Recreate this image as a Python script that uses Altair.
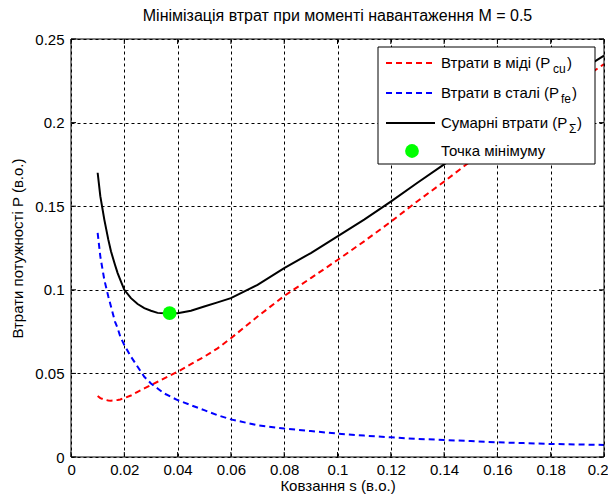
import altair as alt
import pandas as pd

# ---- data ----
s_vals = [0.01, 0.011, 0.0125, 0.014, 0.015, 0.0165, 0.0175, 0.0185, 0.02, 0.0225,
          0.025, 0.0275, 0.03, 0.0325, 0.035, 0.04, 0.045, 0.05, 0.055, 0.06,
          0.07, 0.08, 0.09, 0.10, 0.11, 0.12, 0.13, 0.14, 0.15, 0.16,
          0.17, 0.18, 0.19, 0.20]
p_cu = [0.0365, 0.0352, 0.0343, 0.0338, 0.0337, 0.0339, 0.0341, 0.0344, 0.0352, 0.0368,
        0.039, 0.041, 0.043, 0.045, 0.047, 0.051, 0.0555, 0.060, 0.065, 0.071,
        0.084, 0.0963, 0.107, 0.1178, 0.129, 0.1407, 0.153, 0.1647, 0.177, 0.189,
        0.201, 0.213, 0.224, 0.235]
p_fe = [0.134, 0.120, 0.106, 0.096, 0.090, 0.081, 0.077, 0.072, 0.067, 0.060,
        0.054, 0.048, 0.044, 0.041, 0.038, 0.034, 0.031, 0.028, 0.025, 0.0225,
        0.019, 0.017, 0.0155, 0.014, 0.0128, 0.0118, 0.0108, 0.0102, 0.0095, 0.0088,
        0.0083, 0.0078, 0.0075, 0.0072]
p_sum = [0.170, 0.156, 0.142, 0.130, 0.123, 0.115, 0.110, 0.106, 0.100, 0.095,
         0.0915, 0.089, 0.0875, 0.0862, 0.086, 0.086, 0.0875, 0.090, 0.0925, 0.095,
         0.103, 0.113, 0.122, 0.132, 0.142, 0.1527, 0.164, 0.175, 0.187, 0.198,
         0.209, 0.220, 0.230, 0.240]
min_s = [0.037]
min_p = [0.086]

x_ticks = [0, 0.02, 0.04, 0.06, 0.08, 0.1, 0.12, 0.14, 0.16, 0.18, 0.2]
y_ticks = [0, 0.05, 0.1, 0.15, 0.2, 0.25]

title_text = "Мінімізація втрат при моменті навантаження M = 0.5"
x_title = "Ковзання s (в.о.)"
y_title = "Втрати потужності P (в.о.)"
leg_main = ["Втрати в міді (P", "Втрати в сталі (P", "Сумарні втрати (P", "Точка мінімуму"]
leg_sub = ["cu", "fe", "Σ"]

W, H = 533, 418
FONT = "Liberation Sans"
FS = 15

df_cu = pd.DataFrame({"s": s_vals, "P": p_cu})
df_fe = pd.DataFrame({"s": s_vals, "P": p_fe})
df_sum = pd.DataFrame({"s": s_vals, "P": p_sum})
df_min = pd.DataFrame({"s": min_s, "P": min_p})
df_xt = pd.DataFrame({"s": x_ticks})
df_yt = pd.DataFrame({"P": y_ticks})
one = pd.DataFrame({"a": [0]})

xs = alt.Scale(domain=[0, 0.2], nice=False, zero=False)
ys = alt.Scale(domain=[0, 0.25], nice=False, zero=False)

x_axis = alt.Axis(values=x_ticks, format="~g", grid=True, gridDash=[3, 3],
                  gridColor="black", gridWidth=1, ticks=False, domain=False,
                  labelFont=FONT, labelFontSize=FS, labelColor="black",
                  labelPadding=5, labelFlush=True, labelFlushOffset=4, labelOverlap=False,
                  title=x_title, titleFont=FONT, titleFontSize=FS,
                  titleFontWeight="normal", titleColor="black",
                  titleY=36, titleBaseline="bottom")
y_axis = alt.Axis(values=y_ticks, format="~g", grid=True, gridDash=[3, 3],
                  gridColor="black", gridWidth=1, ticks=False, domain=False,
                  labelFont=FONT, labelFontSize=FS, labelColor="black",
                  labelPadding=7, labelFlush=False, labelOverlap=False,
                  title=y_title, titleFont=FONT, titleFontSize=FS,
                  titleFontWeight="normal", titleColor="black",
                  titleX=-54, titleY=H / 2, titleBaseline="middle", titleAlign="center")

X = alt.X("s:Q", scale=xs, axis=x_axis)
Y = alt.Y("P:Q", scale=ys, axis=y_axis)

cu = alt.Chart(df_cu).mark_line(color="#FF0000", strokeWidth=2, strokeDash=[6, 4]).encode(x=X, y=Y)
fe = alt.Chart(df_fe).mark_line(color="#0000FF", strokeWidth=2, strokeDash=[6, 4]).encode(x=X, y=Y)
tot = alt.Chart(df_sum).mark_line(color="black", strokeWidth=2).encode(x=X, y=Y)
pt = alt.Chart(df_min).mark_circle(color="#00FF00", size=190, opacity=1).encode(x=X, y=Y)

tick_style = dict(color="black", strokeWidth=1)
xt_b = alt.Chart(df_xt).mark_rule(**tick_style).encode(
    x=X, y=alt.value(H), y2=alt.value(H - 5))
xt_t = alt.Chart(df_xt).mark_rule(**tick_style).encode(
    x=X, y=alt.value(0), y2=alt.value(5))
yt_l = alt.Chart(df_yt).mark_rule(**tick_style).encode(
    y=Y, x=alt.value(0), x2=alt.value(5))
yt_r = alt.Chart(df_yt).mark_rule(**tick_style).encode(
    y=Y, x=alt.value(W), x2=alt.value(W - 5))

frame = alt.Chart(one).mark_rect(filled=False, stroke="black", strokeWidth=1).encode(
    x=alt.value(0), x2=alt.value(W), y=alt.value(0), y2=alt.value(H))

leg_box = alt.Chart(one).mark_rect(fill="white", stroke="black", strokeWidth=1).encode(
    x=alt.value(307), x2=alt.value(524), y=alt.value(8), y2=alt.value(125))

rows_y = [24, 54, 84, 112]
sym_cu = alt.Chart(one).mark_rule(color="#FF0000", strokeWidth=2, strokeDash=[6, 4]).encode(
    x=alt.value(315), x2=alt.value(364), y=alt.value(rows_y[0]))
sym_fe = alt.Chart(one).mark_rule(color="#0000FF", strokeWidth=2, strokeDash=[6, 4]).encode(
    x=alt.value(315), x2=alt.value(364), y=alt.value(rows_y[1]))
sym_sum = alt.Chart(one).mark_rule(color="black", strokeWidth=2).encode(
    x=alt.value(315), x2=alt.value(364), y=alt.value(rows_y[2]))
sym_pt = alt.Chart(one).mark_circle(color="#00FF00", size=190, opacity=1).encode(
    x=alt.value(341), y=alt.value(rows_y[3]))

def txt(t, x, y, size=FS, dy=0):
    return alt.Chart(one).mark_text(text=t, font=FONT, fontSize=size, color="black",
                                    align="left", baseline="middle", dy=dy).encode(
        x=alt.value(x), y=alt.value(y))

TX = 370
sub_x = [482, 490, 498]
close_x = [496, 501, 506]
texts = []
for i in range(3):
    texts.append(txt(leg_main[i], TX, rows_y[i]))
    texts.append(txt(leg_sub[i], sub_x[i], rows_y[i], size=12, dy=6))
    texts.append(txt(")", close_x[i], rows_y[i]))
texts.append(txt(leg_main[3], TX, rows_y[3]))

chart = alt.layer(
    cu, fe, tot, pt, xt_b, xt_t, yt_l, yt_r, frame,
    leg_box, sym_cu, sym_fe, sym_sum, sym_pt, *texts
).properties(
    width=W, height=H,
    title=alt.TitleParams(title_text, font=FONT, fontSize=16, fontWeight="normal",
                          color="black", anchor="middle", offset=8),
    autosize=alt.AutoSizeParams(type="none"),
    padding={"left": 63, "top": 31, "right": 4, "bottom": 37},
).configure_view(stroke=None)

chart.save("out.html", embed_options={"renderer": "svg", "actions": False})
